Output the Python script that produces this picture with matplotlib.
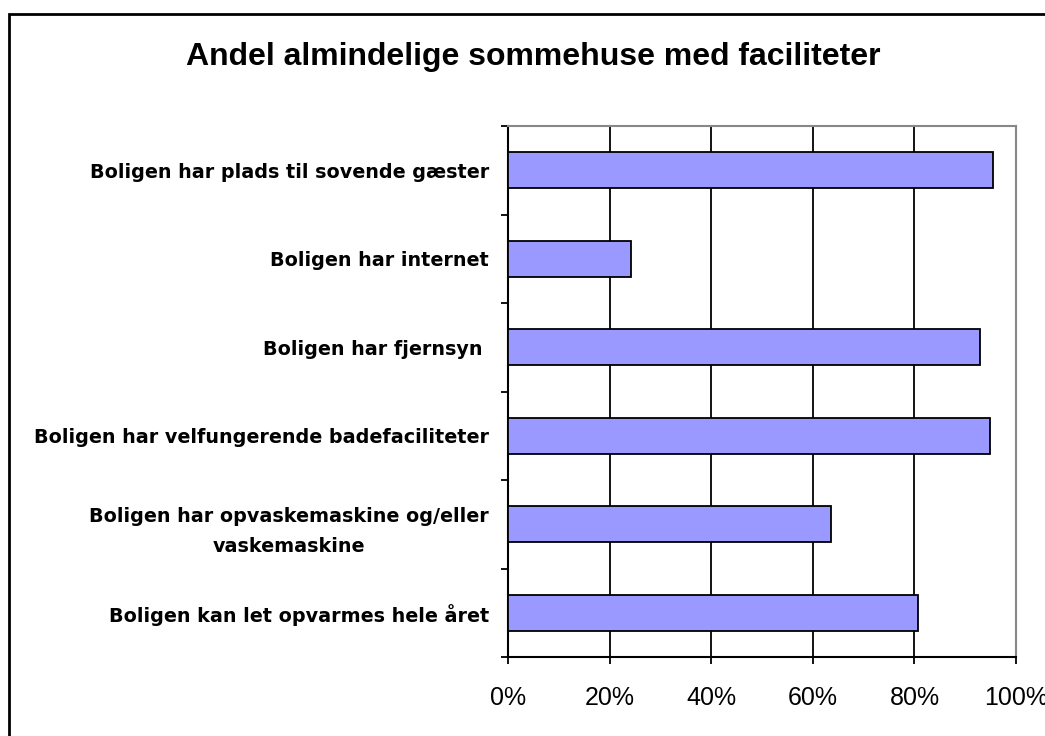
import matplotlib.pyplot as plt
from matplotlib.patches import Rectangle
from matplotlib.ticker import FixedLocator, PercentFormatter

plt.rcParams['font.family'] = ['Liberation Sans', 'DejaVu Sans']

categories = [
    "Boligen har plads til sovende gæster",
    "Boligen har internet",
    "Boligen har fjernsyn ",
    "Boligen har velfungerende badefaciliteter",
    "Boligen har opvaskemaskine og/eller\nvaskemaskine",
    "Boligen kan let opvarmes hele året",
]
shares = [95.4, 24.1, 93.0, 94.9, 63.5, 80.6]
x_ticks = [0, 20, 40, 60, 80, 100]

fig = plt.figure(figsize=(10.45, 7.36), dpi=100)
ax = fig.add_axes([0.4866, 0.1073, 0.4856, 0.7215])

pos = list(range(len(categories)))
ax.barh(pos, shares, height=0.41, color="#9999ff", edgecolor="black",
        linewidth=1.3, zorder=3)

ax.set_xlim(0, 100)
ax.set_ylim(len(categories) - 0.5, -0.5)

# tick marks sit on category boundaries, labels at the centres
ax.yaxis.set_major_locator(FixedLocator([p - 0.5 for p in range(len(categories) + 1)]))
ax.yaxis.set_major_formatter(plt.NullFormatter())
ax.yaxis.set_minor_locator(FixedLocator(pos))
ax.set_yticklabels(categories, minor=True, fontsize=13.8, fontweight="bold",
                   family=["DejaVu Sans"], multialignment="center", linespacing=1.7)
ax.tick_params(axis="y", which="minor", length=0, pad=14)
ax.tick_params(axis="y", which="major", length=5, width=1.3, direction="out")

ax.set_xticks(x_ticks)
ax.xaxis.set_major_formatter(PercentFormatter(decimals=0))
ax.tick_params(axis="x", length=5, width=1.3, direction="out", labelsize=18, pad=16)

ax.grid(axis="x", color="black", linewidth=1.3, zorder=1)
ax.set_axisbelow(True)

for side in ("top", "right"):
    ax.spines[side].set_color("#888888")
    ax.spines[side].set_linewidth(1.5)
for side in ("left", "bottom"):
    ax.spines[side].set_color("black")
    ax.spines[side].set_linewidth(1.5)

fig.text(0.51, 0.922, "Andel almindelige sommehuse med faciliteter",
         ha="center", va="center", fontsize=23, fontweight="bold")

fig.patches.append(Rectangle((9 / 1045, -0.05), 1.1, 1.05 - 14 / 736,
                             transform=fig.transFigure, fill=False,
                             edgecolor="black", linewidth=2))

fig.savefig("out.png", dpi=100)
